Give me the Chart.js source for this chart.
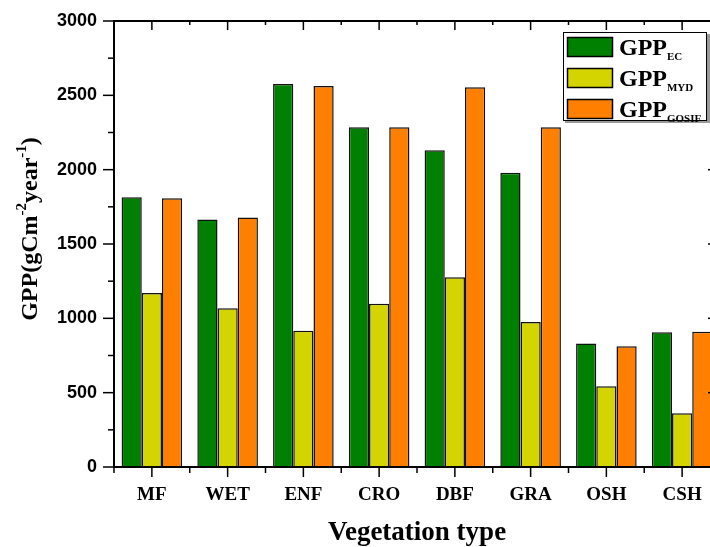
<!DOCTYPE html>
<html><head><meta charset="utf-8">
<script src="https://cdn.jsdelivr.net/npm/chart.js@4.4.0/dist/chart.umd.min.js"></script>
<style>html,body{margin:0;padding:0;overflow:hidden;background:#fff;width:710px;height:547px}canvas{display:block}</style>
</head><body>
<canvas id="c" width="730" height="547"></canvas>
<script>
const categories = ['MF','WET','ENF','CRO','DBF','GRA','OSH','CSH'];
const gppEC    = [1815, 1665, 2577, 2286, 2130, 1980, 830, 907];
const gppMYD   = [1170, 1067, 916, 1098, 1277, 975, 544, 362];
const gppGOSIF = [1808, 1678, 2563, 2286, 2555, 2286, 813, 910];
const seriesLabels = ['GPP_EC','GPP_MYD','GPP_GOSIF'];
const seriesColors = ['#008000','#D4D400','#FF8000'];
const yMin = 0, yMax = 3000, yStep = 500, yMinorStep = 250;
const xTitle = 'Vegetation type';
const yTitleParts = [['GPP(gCm',false],['-2',true],['year',false],['-1',true],[')',false]];

const serif = '"Liberation Serif","Times New Roman",serif';
const sans = '"Liberation Sans",Arial,sans-serif';

const framePlugin = {
  id: 'frame',
  afterDatasetsDraw(chart) {
    const {ctx, chartArea: a, scales: {x, y}} = chart;
    ctx.save();
    ctx.strokeStyle = '#000';
    const line = (x1, y1, x2, y2) => { ctx.beginPath(); ctx.moveTo(x1, y1); ctx.lineTo(x2, y2); ctx.stroke(); };
    ctx.lineWidth = 2;
    ctx.strokeRect(a.left, a.top, a.right - a.left, a.bottom - a.top);
    ctx.lineWidth = 1.5;
    for (let v = yMin; v <= yMax; v += yMinorStep) {
      const py = y.getPixelForValue(v);
      const major = v % yStep === 0;
      line(a.left - (major ? 11 : 6), py, a.left, py);
      line(a.right, py, a.right - (major ? 12 : 6), py);
    }
    const half = (x.getPixelForValue(1) - x.getPixelForValue(0)) / 2;
    categories.forEach((c, i) => {
      const px = x.getPixelForValue(i);
      line(px, a.bottom, px, a.bottom + 10);
      line(px, a.top, px, a.top + 9);
      const b = px - half;
      line(b, a.bottom, b, a.bottom + 6);
      line(b, a.top, b, a.top + 4);
      if (i === categories.length - 1) {
        line(px + half, a.bottom, px + half, a.bottom + 6);
        line(px + half, a.top, px + half, a.top + 4);
      }
    });
    ctx.restore();
  },
  afterDraw(chart) {
    const ctx = chart.ctx;
    ctx.save();
    // legend box
    ctx.fillStyle = '#9a9a9a';
    ctx.fillRect(565, 34, 145, 89);
    ctx.fillStyle = '#fff';
    ctx.fillRect(563, 32, 144, 89);
    ctx.strokeStyle = '#000';
    ctx.lineWidth = 1;
    ctx.strokeRect(563.5, 32.5, 143, 88);
    const rows = [37, 68, 99];
    seriesLabels.forEach((lab, i) => {
      const [main, sub] = lab.split('_');
      ctx.fillStyle = seriesColors[i];
      ctx.fillRect(567, rows[i], 46, 20);
      ctx.strokeStyle = '#000';
      ctx.lineWidth = 1.5;
      ctx.strokeRect(567.5, rows[i] + 0.5, 45, 19);
      ctx.fillStyle = '#000';
      ctx.textBaseline = 'alphabetic';
      ctx.textAlign = 'left';
      ctx.font = 'bold 24px ' + serif;
      ctx.fillText(main, 619, rows[i] + 18);
      const w = ctx.measureText(main).width;
      ctx.font = 'bold 11px ' + serif;
      ctx.fillText(sub, 619 + w, rows[i] + 23);
    });
    // y axis title
    ctx.translate(37, 229);
    ctx.rotate(-Math.PI / 2);
    const mainFont = 'bold 24px ' + serif, supFont = 'bold 15px ' + serif;
    let total = 0;
    yTitleParts.forEach(([t, sup]) => { ctx.font = sup ? supFont : mainFont; total += ctx.measureText(t).width; });
    let cx = -total / 2;
    ctx.fillStyle = '#000';
    ctx.textAlign = 'left';
    ctx.textBaseline = 'alphabetic';
    yTitleParts.forEach(([t, sup]) => {
      ctx.font = sup ? supFont : mainFont;
      ctx.fillText(t, cx, sup ? -11 : 0);
      cx += ctx.measureText(t).width;
    });
    ctx.restore();
  }
};

new Chart(document.getElementById('c'), {
  type: 'bar',
  data: {
    labels: categories,
    datasets: [gppEC, gppMYD, gppGOSIF].map((d, i) => ({
      label: seriesLabels[i],
      data: d,
      backgroundColor: seriesColors[i],
      borderColor: '#111',
      borderWidth: 1.5,
      categoryPercentage: 0.8,
      barPercentage: 1.0
    }))
  },
  options: {
    responsive: false,
    animation: false,
    devicePixelRatio: 1,
    layout: { padding: { top: 21, right: 10, left: 0, bottom: 0 } },
    plugins: { legend: { display: false }, tooltip: { enabled: false } },
    scales: {
      x: {
        grid: { display: false, drawTicks: false },
        border: { display: false },
        ticks: { font: { family: serif, size: 19, weight: 'bold' }, color: '#000', padding: 17 },
        title: { display: true, text: xTitle, color: '#000', font: { family: serif, size: 27, weight: 'bold', lineHeight: 1 }, padding: { top: 0, bottom: 0 } },
        afterFit(s) { s.height = 80; s.paddingLeft = 0; s.paddingRight = 0; }
      },
      y: {
        min: yMin, max: yMax,
        grid: { display: false, drawTicks: false },
        border: { display: false },
        ticks: { stepSize: yStep, font: { family: sans, size: 18, weight: 'bold' }, color: '#000', padding: 17, callback: (v) => String(v) },
        afterFit(s) { s.width = 114; s.paddingTop = 0; s.paddingBottom = 0; }
      }
    }
  },
  plugins: [framePlugin]
});
</script>
</body></html>
